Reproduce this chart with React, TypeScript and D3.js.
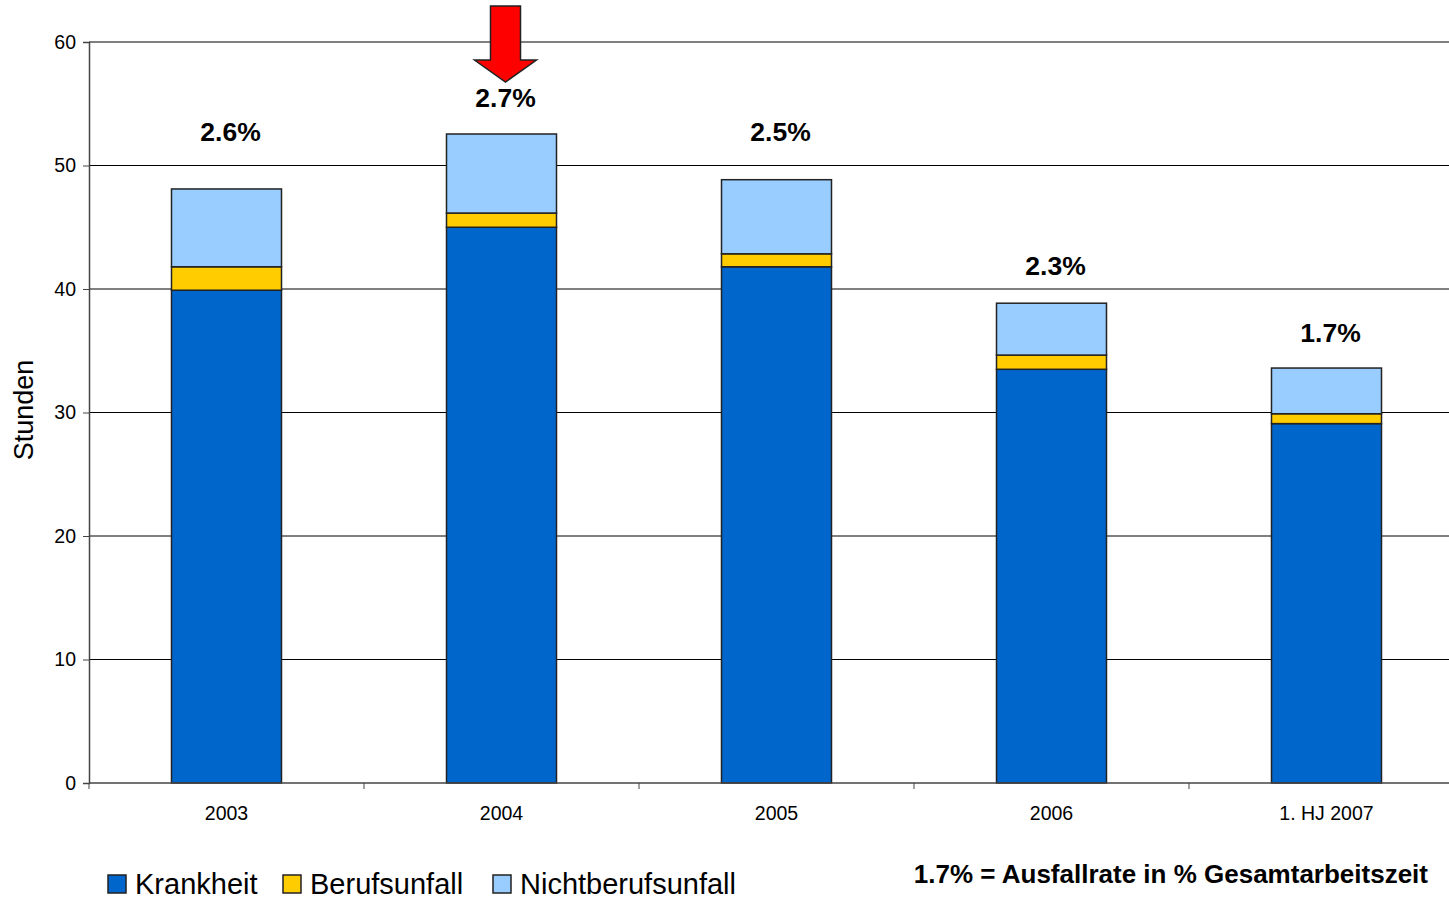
import React, { useEffect, useRef } from 'react';
import * as d3 from 'd3';

const categories = ['2003', '2004', '2005', '2006', '1. HJ 2007'];
const krankheit = [39.9, 45.0, 41.8, 33.5, 29.1];
const berufsunfall = [1.9, 1.15, 1.05, 1.15, 0.8];
const nichtberufsunfall = [6.3, 6.4, 6.0, 4.2, 3.7];
const rates = ['2.6%', '2.7%', '2.5%', '2.3%', '1.7%'];
const yTicks = [0, 10, 20, 30, 40, 50, 60];
const seriesNames = ['Krankheit', 'Berufsunfall', 'Nichtberufsunfall'];
const colors = ['#0066cc', '#ffcc00', '#99ccff'];

const App: React.FC = () => {
  const ref = useRef<SVGSVGElement | null>(null);

  useEffect(() => {
    if (!ref.current) return;
    const svg = d3.select(ref.current);
    svg.selectAll('*').remove();

    const font = 'Liberation Sans, Arial, sans-serif';
    const left = 89;
    const right = 1464;
    const top = 42;
    const bottom = 783;

    const x = d3.scaleBand<string>().domain(categories).range([left, right]).paddingInner(0.6).paddingOuter(0.3);
    const xOuter = d3.scaleBand<string>().domain(categories).range([left, right]);
    const y = d3.scaleLinear().domain([0, 60]).range([bottom, top]);

    // gridlines
    svg.append('g')
      .selectAll('line')
      .data(yTicks.slice(1))
      .join('line')
      .attr('x1', left).attr('x2', 1449)
      .attr('y1', (d) => y(d)).attr('y2', (d) => y(d))
      .attr('stroke', '#000').attr('stroke-width', 1);

    const rows = categories.map((c, i) => ({
      cat: c,
      Krankheit: krankheit[i],
      Berufsunfall: berufsunfall[i],
      Nichtberufsunfall: nichtberufsunfall[i],
    }));
    const stack = d3.stack<any>().keys(seriesNames)(rows);

    svg.append('g')
      .selectAll('g')
      .data(stack)
      .join('g')
      .attr('fill', (_d, i) => colors[i])
      .selectAll('rect')
      .data((d) => d)
      .join('rect')
      .attr('x', (d) => x(d.data.cat) as number)
      .attr('width', x.bandwidth())
      .attr('y', (d) => y(d[1]))
      .attr('height', (d) => y(d[0]) - y(d[1]))
      .attr('stroke', '#222')
      .attr('stroke-width', 1.5);

    // y axis
    const yAxis = svg.append('g')
      .attr('transform', `translate(${left},0)`)
      .call(d3.axisLeft(y).tickValues(yTicks).tickSize(6).tickPadding(7));
    yAxis.select('.domain').attr('stroke', '#444').attr('stroke-width', 1.5);
    yAxis.selectAll('.tick line').attr('stroke', '#444');
    yAxis.selectAll('text').attr('font-family', font).attr('font-size', 19.5).attr('fill', '#000');

    // x axis
    const xAxis = svg.append('g').attr('transform', `translate(0,${bottom})`);
    xAxis.append('line').attr('x1', left).attr('x2', 1449).attr('y1', 0).attr('y2', 0)
      .attr('stroke', '#444').attr('stroke-width', 1.5);
    xAxis.selectAll('line.tk')
      .data(categories)
      .join('line')
      .attr('class', 'tk')
      .attr('x1', (d) => xOuter(d) as number).attr('x2', (d) => xOuter(d) as number)
      .attr('y1', 0).attr('y2', 6)
      .attr('stroke', '#444');
    xAxis.selectAll('text')
      .data(categories)
      .join('text')
      .attr('x', (d) => (x(d) as number) + x.bandwidth() / 2)
      .attr('y', 37)
      .attr('text-anchor', 'middle')
      .attr('font-family', font).attr('font-size', 19.5)
      .text((d) => d);

    // y label
    svg.append('text')
      .attr('transform', `translate(33,410) rotate(-90)`)
      .attr('text-anchor', 'middle')
      .attr('font-family', font).attr('font-size', 27)
      .text('Stunden');

    // rate labels
    const offsets = [48, 27, 39, 28, 26];
    svg.append('g')
      .selectAll('text')
      .data(rates)
      .join('text')
      .attr('x', (_d, i) => (x(categories[i]) as number) + x.bandwidth() / 2 + 4)
      .attr('y', (_d, i) => y(krankheit[i] + berufsunfall[i] + nichtberufsunfall[i]) - offsets[i])
      .attr('text-anchor', 'middle')
      .attr('font-family', font).attr('font-size', 26.5).attr('font-weight', 'bold')
      .text((d) => d);

    // red arrow over 2004
    const ax = (x('2004') as number) + x.bandwidth() / 2 + 4;
    const arrow = d3.path();
    arrow.moveTo(ax - 15, 6);
    arrow.lineTo(ax + 15, 6);
    arrow.lineTo(ax + 15, 60);
    arrow.lineTo(ax + 31, 60);
    arrow.lineTo(ax, 82);
    arrow.lineTo(ax - 31, 60);
    arrow.lineTo(ax - 15, 60);
    arrow.closePath();
    svg.append('path').attr('d', arrow.toString()).attr('fill', '#ff0000').attr('stroke', '#222').attr('stroke-width', 1.5);

    // legend
    const legendX = [108, 283, 493];
    const lg = svg.append('g');
    seriesNames.forEach((name, i) => {
      lg.append('rect').attr('x', legendX[i]).attr('y', 875).attr('width', 18).attr('height', 18)
        .attr('fill', colors[i]).attr('stroke', '#222').attr('stroke-width', 1.5);
      lg.append('text').attr('x', legendX[i] + 27).attr('y', 894)
        .attr('font-family', font).attr('font-size', 29).text(name);
    });

    svg.append('text')
      .attr('x', 1428).attr('y', 883)
      .attr('text-anchor', 'end')
      .attr('font-family', font).attr('font-size', 26).attr('font-weight', 'bold')
      .text('1.7% = Ausfallrate in % Gesamtarbeitszeit');
  }, []);

  return (
    <svg ref={ref} width={1449} height={899} style={{ position: 'absolute', left: 0, top: 0, background: '#fff' }} />
  );
};

export default App;
